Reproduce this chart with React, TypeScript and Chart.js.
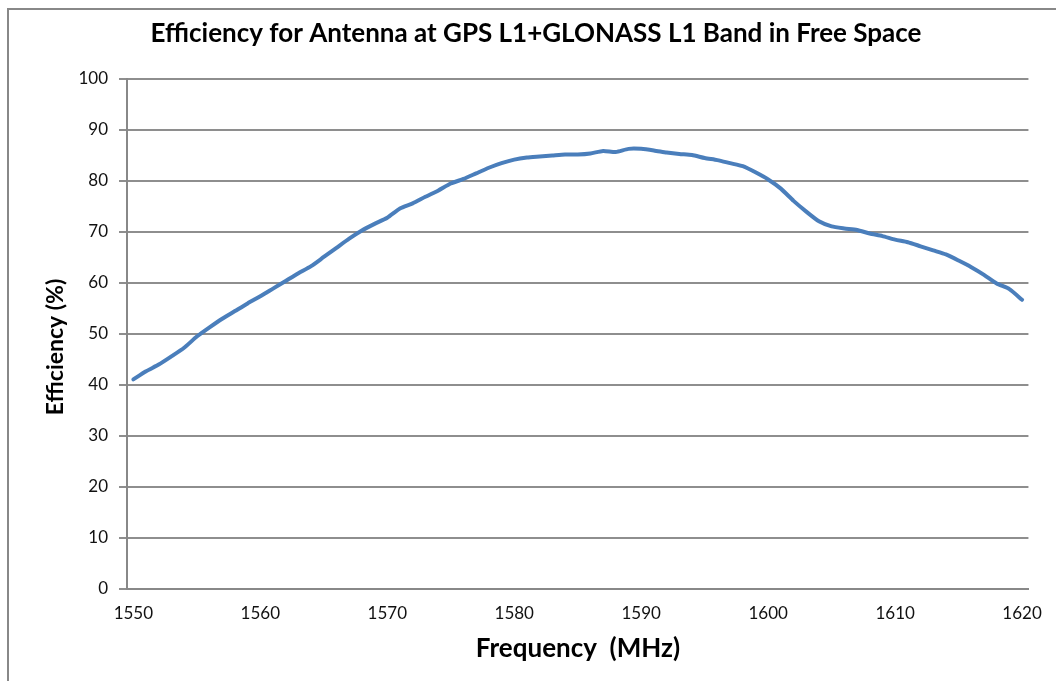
import React, { useEffect, useRef } from "react";
import { Chart, registerables } from "chart.js";

Chart.register(...registerables);

const titleText = "Efficiency for Antenna at GPS L1+GLONASS L1 Band in Free Space";
const xAxisTitle = "Frequency  (MHz)";
const yAxisTitle = "Efficiency (%)";

const frequencies = [
  1550, 1551, 1552, 1553, 1554, 1555, 1556, 1557, 1558, 1559,
  1560, 1561, 1562, 1563, 1564, 1565, 1566, 1567, 1568, 1569,
  1570, 1571, 1572, 1573, 1574, 1575, 1576, 1577, 1578, 1579,
  1580, 1581, 1582, 1583, 1584, 1585, 1586, 1587, 1588, 1589,
  1590, 1591, 1592, 1593, 1594, 1595, 1596, 1597, 1598, 1599,
  1600, 1601, 1602, 1603, 1604, 1605, 1606, 1607, 1608, 1609,
  1610, 1611, 1612, 1613, 1614, 1615, 1616, 1617, 1618, 1619,
  1620,
];

const efficiency = [
  41.1, 42.7, 44.0, 45.6, 47.3, 49.5, 51.3, 53.0, 54.5, 56.0,
  57.4, 58.9, 60.4, 61.9, 63.3, 65.1, 66.9, 68.7, 70.3, 71.6,
  72.8, 74.6, 75.6, 76.9, 78.1, 79.5, 80.4, 81.5, 82.6, 83.5,
  84.2, 84.6, 84.8, 85.0, 85.2, 85.2, 85.4, 85.9, 85.7, 86.3,
  86.3, 86.0, 85.6, 85.3, 85.1, 84.5, 84.1, 83.5, 82.9, 81.7,
  80.3, 78.5, 76.1, 74.0, 72.1, 71.1, 70.7, 70.4, 69.7, 69.2,
  68.5, 68.0, 67.2, 66.4, 65.6, 64.4, 63.1, 61.6, 59.9, 58.8,
  56.7,
];

const xTickLabels = ["1550", "1560", "1570", "1580", "1590", "1600", "1610", "1620"];
const yMin = 0;
const yMax = 100;
const yStep = 10;

const FONT = "Lato, 'Open Sans', sans-serif";

const textPlugin = {
  id: "excelTexts",
  beforeDraw(chart: any) {
    const ctx = chart.ctx;
    ctx.save();
    ctx.fillStyle = "#ffffff";
    ctx.fillRect(0, 0, chart.width, chart.height);
    ctx.strokeStyle = "#888888";
    ctx.lineWidth = 2;
    ctx.strokeRect(8, 9, chart.width + 50, chart.height + 50);
    ctx.restore();
  },
  afterDraw(chart: any) {
    const ctx = chart.ctx;
    ctx.save();
    ctx.fillStyle = "#000000";
    ctx.textAlign = "center";
    ctx.textBaseline = "alphabetic";
    ctx.font = `bold 26px ${FONT}`;
    ctx.fillText(titleText, 536, 42);

    ctx.font = `bold 26px ${FONT}`;
    ctx.fillText(xAxisTitle, 578, 657);

    ctx.translate(56, 347);
    ctx.rotate(-Math.PI / 2);
    ctx.textBaseline = "middle";
    ctx.font = `bold 23px ${FONT}`;
    ctx.fillText(yAxisTitle, 0, 0);
    ctx.restore();
  },
};

export default function App() {
  const canvasRef = useRef<HTMLCanvasElement | null>(null);

  useEffect(() => {
    if (!canvasRef.current) return;
    const chart = new Chart(canvasRef.current, {
      type: "line",
      data: {
        labels: frequencies.map(String),
        datasets: [
          {
            data: efficiency,
            borderColor: "#4A7EBB",
            borderWidth: 4,
            pointRadius: 0,
            tension: 0.2,
            borderCapStyle: "round",
            borderJoinStyle: "round",
            fill: false,
          },
        ],
      },
      options: {
        animation: false,
        responsive: false,
        maintainAspectRatio: false,
        layout: { padding: { top: 79, left: 0, right: 27, bottom: 0 } },
        plugins: {
          legend: { display: false },
          title: { display: false },
          tooltip: { enabled: false },
        },
        scales: {
          x: {
            type: "category",
            offset: true,
            grid: { display: false, drawTicks: false },
            border: { display: true, color: "#888888", width: 2 },
            ticks: {
              autoSkip: false,
              maxRotation: 0,
              minRotation: 0,
              padding: 14,
              color: "#111111",
              font: { family: FONT, size: 17 },
              callback: function (this: any, value: any, index: number) {
                const lab = String(frequencies[index]);
                return xTickLabels.includes(lab) ? lab : "";
              },
            },
            afterFit(scale: any) {
              scale.height = 92;
            },
          },
          y: {
            min: yMin,
            max: yMax,
            grid: {
              color: "#8e8e8e",
              lineWidth: 2,
              drawTicks: true,
              tickLength: 8,
              tickColor: "#8e8e8e",
            },
            border: { display: true, color: "#888888", width: 2 },
            ticks: {
              stepSize: yStep,
              padding: 11,
              color: "#111111",
              font: { family: FONT, size: 17 },
            },
            afterFit(scale: any) {
              scale.width = 127;
            },
          },
        },
      },
      plugins: [textPlugin],
    });
    return () => chart.destroy();
  }, []);

  return (
    <div style={{ position: "fixed", left: 0, top: 0, width: 1056, height: 681, background: "#fff" }}>
      <canvas ref={canvasRef} width={1056} height={681} style={{ display: "block" }} />
    </div>
  );
}
